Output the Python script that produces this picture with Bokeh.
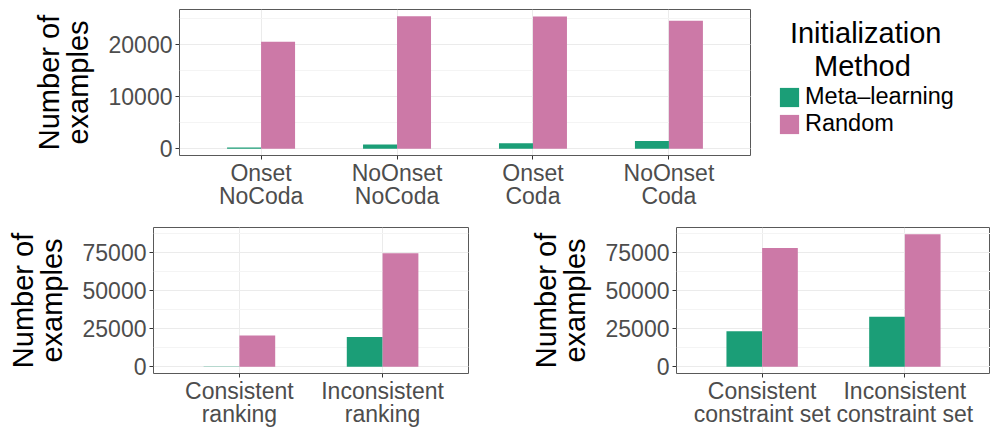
from bokeh.plotting import figure
from bokeh.models import (ColumnDataSource, FactorRange, Range1d, SingleIntervalTicker,
                          BasicTickFormatter, Legend, LegendItem)
from bokeh.transform import dodge
from bokeh.layouts import column, row
from bokeh.embed import file_html
from bokeh.resources import INLINE

# --- data -------------------------------------------------------------------
syllable_types = ["Onset\nNoCoda", "NoOnset\nNoCoda", "Onset\nCoda", "NoOnset\nCoda"]
syllable_meta = [250, 820, 1080, 1520]
syllable_random = [20600, 25550, 25480, 24650]

ranking_types = ["Consistent\nranking", "Inconsistent\nranking"]
ranking_meta = [300, 19700]
ranking_random = [20550, 74800]

constraint_types = ["Consistent\nconstraint set", "Inconsistent\nconstraint set"]
constraint_meta = [23400, 33000]
constraint_random = [78100, 87300]

method_labels = ["Meta\u2013learning", "Random"]
# legend title, lines indented with fixed-width spaces so they sit centred over the keys
legend_title = "\u00a0\u2006Initialization\n\u00a0\u00a0\u00a0\u00a0\u2006Method"

# --- style ------------------------------------------------------------------
FONT = "Liberation Sans"
META_COLOR = "#1B9E77"
RANDOM_COLOR = "#CC79A7"
TICK_SIZE = "23px"
TITLE_SIZE = "29px"
BAR_W = 0.25


def make_panel(cats, meta, rand, y_max, interval, frame_w, left, right, top, bottom):
    pad = 0.05 * y_max
    p = figure(
        x_range=FactorRange(factors=list(cats), range_padding=0.1,
                            range_padding_units="absolute"),
        y_range=Range1d(-pad, y_max + pad),
        frame_width=frame_w, frame_height=146,
        min_border_left=left, min_border_right=right,
        min_border_top=top, min_border_bottom=bottom,
        output_backend="svg", toolbar_location=None,
    )
    src = ColumnDataSource(dict(cat=list(cats), meta=list(meta), rand=list(rand)))
    r_meta = p.vbar(x=dodge("cat", -BAR_W / 2, range=p.x_range), top="meta",
                    width=BAR_W, source=src, fill_color=META_COLOR, line_color=None)
    r_rand = p.vbar(x=dodge("cat", BAR_W / 2, range=p.x_range), top="rand",
                    width=BAR_W, source=src, fill_color=RANDOM_COLOR, line_color=None)

    p.yaxis.ticker = SingleIntervalTicker(interval=interval, num_minor_ticks=2)
    p.yaxis.formatter = BasicTickFormatter(use_scientific=False)
    p.yaxis.axis_label = "Number of\nexamples"
    p.yaxis.axis_label_text_font = FONT
    p.yaxis.axis_label_text_font_size = TITLE_SIZE
    p.yaxis.axis_label_text_font_style = "normal"
    p.yaxis.axis_label_text_color = "black"
    p.yaxis.axis_label_text_line_height = 0.9
    p.yaxis.axis_label_standoff = 12

    for ax in p.axis:
        ax.major_label_text_font = FONT
        ax.major_label_text_font_size = TICK_SIZE
        ax.major_label_text_color = "#4D4D4D"
        ax.axis_line_color = None
        ax.major_tick_line_color = "#333333"
        ax.major_tick_in = 0
        ax.major_tick_out = 4
        ax.minor_tick_in = 0
        ax.minor_tick_out = 0
        ax.major_label_standoff = 3
    p.xaxis.major_label_standoff = 0
    p.xaxis.major_label_text_line_height = 0.92

    p.xgrid.grid_line_color = "#EBEBEB"
    p.ygrid.grid_line_color = "#EBEBEB"
    p.ygrid.minor_grid_line_color = "#F4F4F4"
    p.outline_line_color = "#595959"
    p.background_fill_color = "white"
    p.border_fill_color = "white"
    return p, r_meta, r_rand


bottom_max = max(max(ranking_meta + ranking_random), max(constraint_meta + constraint_random))

p_top, r_meta, r_rand = make_panel(
    syllable_types, syllable_meta, syllable_random,
    max(syllable_meta + syllable_random), 10000,
    frame_w=571, left=179, right=240, top=9, bottom=60)

legend = Legend(
    items=[LegendItem(label=method_labels[0], renderers=[r_meta]),
           LegendItem(label=method_labels[1], renderers=[r_rand])],
    title=legend_title, title_text_font=FONT, title_text_font_size=TITLE_SIZE,
    title_text_font_style="normal", title_text_color="black",
    title_text_line_height=0.82, title_standoff=0,
    location=(27, 18), glyph_width=24, glyph_height=24, spacing=0,
    padding=0, margin=0, label_standoff=4,
    label_text_font=FONT, label_text_font_size="23.5px", label_text_color="black",
    border_line_color=None, background_fill_alpha=0,
)
p_top.add_layout(legend, "right")

p_rank, _, _ = make_panel(ranking_types, ranking_meta, ranking_random, bottom_max, 25000,
                          frame_w=315, left=153, right=27, top=12, bottom=56)
p_cons, _, _ = make_panel(constraint_types, constraint_meta, constraint_random, bottom_max, 25000,
                          frame_w=314, left=181, right=0, top=12, bottom=56)

layout = column(p_top, row(p_rank, p_cons))

with open("out.html", "w") as f:
    f.write(file_html(layout, INLINE))
